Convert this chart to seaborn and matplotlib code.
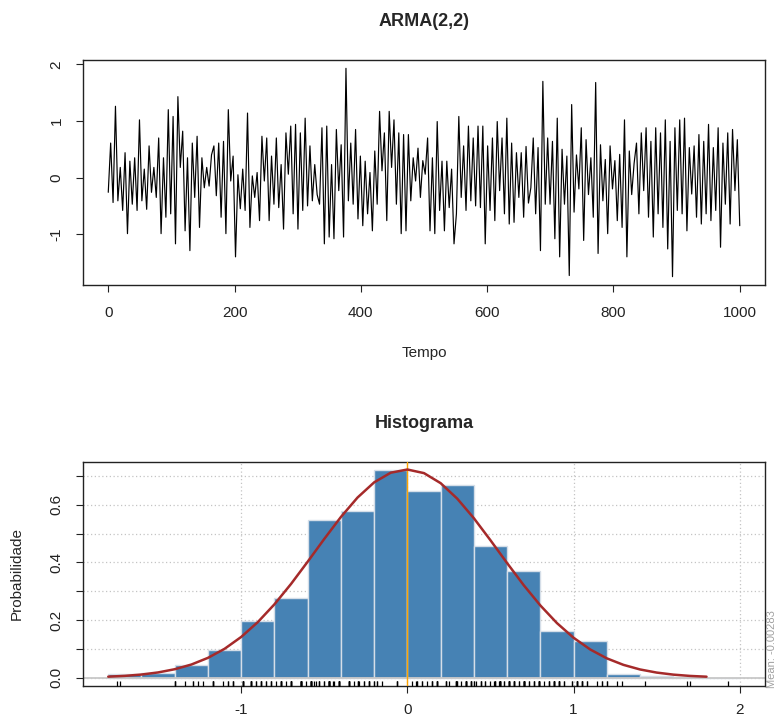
import numpy as np
import matplotlib
matplotlib.use("Agg")
import matplotlib.pyplot as plt
import seaborn as sns

# ARMA(2,2) simulated series (successive peaks/troughs)
serie = [
    -0.26, 0.61, -0.44, 1.26, -0.41, 0.18, -0.58, 0.44, -0.99, 0.29, -0.47, 0.35, -0.58, 1.02, -0.41, 0.15,
    -0.56, 0.56, -0.26, 0.18, -0.35, 0.70, -0.99, 0.35, -0.70, 1.20, -0.64, 1.08, -1.17, 1.43, 0.18, 0.82,
    -0.94, 0.35, -1.29, 0.61, -0.35, 0.73, -0.88, 0.35, -0.18, 0.18, -0.15, 0.40,
    0.56, -0.32, 0.61, -0.70, 0.64, -0.99, 1.20, -0.06, 0.38, -1.40, 0.05, -0.55, 0.15, -0.58, 1.14, -0.88,
    0.03, -0.35, 0.09, -0.76, 0.73, -0.06, 0.70, -0.76, 0.38, -0.47, 0.70, -0.53, 0.23, -0.91, 0.79, 0.06,
    0.91, -0.64, 0.94, -0.91, 0.79, -0.58, 1.05, -0.50, 0.56, -0.41, 0.23, -0.30,
    -0.47, 0.88, -1.17, 0.91, -1.05, 0.23, -1.08, 0.85, -0.23, 0.58, -1.05, 1.93, -0.41, 0.61, -0.47, 0.85,
    -0.73, 0.38, -0.85, 0.29, -0.64, 0.09, -0.94, 0.47, -0.47, 1.17, 0.12, 0.79, -0.76, 1.17, 0.18, 1.02,
    -0.47, 0.79, -0.99, 0.76, -0.94, 0.76, -0.41, 0.35, -0.06, 0.52, -0.35, 0.30,
    0.06, 0.70, -0.94, 0.35, -0.99, 0.99, -0.58, 0.29, -0.94, 0.29, -0.53, 0.15, -1.17, -0.64, 1.08, -0.35,
    0.56, -0.58, 0.91, -0.41, 0.70, -0.50, 0.91, -0.53, 0.91, -1.17, 0.56, -0.58, 0.70, -0.76, 0.99, -0.23,
    0.70, -0.64, 1.05, -0.82, 0.61, -0.79, 0.44, -0.35, 0.44, -0.70, 0.55, -0.45,
    -0.18, 0.70, -0.64, 0.53, -1.29, 1.70, -0.47, 0.70, -0.47, 0.64, -1.08, 1.05, -1.40, 0.50, -0.47, 0.38,
    -1.73, 1.29, -0.61, 0.40, -0.20, 0.88, -1.11, 0.67, -0.30, 0.35, -0.70, 1.68, -1.34, 0.58, -0.41, 0.32,
    -0.99, 0.56, -0.20, 0.30, -0.76, 0.41, -0.88, 1.02, -1.40, 0.47, -0.30, 0.25,
    0.61, -0.64, 0.79, -0.23, 0.88, -0.70, 0.64, -1.05, 0.88, -0.64, 0.79, -0.88, 1.02, -1.26, 0.64, -1.75,
    0.88, -0.58, 1.02, -0.64, 1.05, -0.94, 0.53, -0.29, 0.56, -0.70, 0.76, -0.82, 0.64, -0.64, 0.94, -0.76,
    0.53, -0.58, 0.88, -1.23, 0.61, -0.47, 0.79, -0.82, 0.85, -0.23, 0.67, -0.85,
]
tempo = np.linspace(0, 1000, len(serie))

# Histogram (density per bin)
bordas = [-1.8, -1.6, -1.4, -1.2, -1.0, -0.8, -0.6, -0.4, -0.2, 0.0,
          0.2, 0.4, 0.6, 0.8, 1.0, 1.2, 1.4, 1.6, 1.8, 2.0]
densidade = [0.012, 0.015, 0.043, 0.096, 0.197, 0.276, 0.549, 0.577, 0.720,
             0.647, 0.668, 0.457, 0.370, 0.161, 0.127, 0.012, 0.007, 0.004, 0.0]

# Fitted normal curve
curva_x = [-1.8, -1.7, -1.6, -1.5, -1.4, -1.3, -1.2, -1.1, -1.0, -0.9, -0.8, -0.7, -0.6, -0.5,
           -0.4, -0.3, -0.2, -0.1, 0.0, 0.1, 0.2, 0.3, 0.4, 0.5, 0.6, 0.7, 0.8, 0.9, 1.0,
           1.1, 1.2, 1.3, 1.4, 1.5, 1.6, 1.7, 1.8]
curva_y = [0.0036, 0.0064, 0.0110, 0.0183, 0.0294, 0.0457, 0.0689, 0.1003, 0.1415, 0.1930,
           0.2548, 0.3256, 0.4027, 0.4819, 0.5580, 0.6254, 0.6781, 0.7117, 0.7227, 0.7102,
           0.6754, 0.6216, 0.5537, 0.4771, 0.3980, 0.3212, 0.2509, 0.1896, 0.1387, 0.0981,
           0.0672, 0.0446, 0.0286, 0.0178, 0.0107, 0.0062, 0.0035]
media = -0.00283

sns.set_theme(style="ticks")
plt.rcParams['font.family'] = ['Liberation Sans', 'DejaVu Sans']
plt.rcParams['axes.edgecolor'] = '#222222'
plt.rcParams['axes.linewidth'] = 1.0
plt.rcParams['axes.unicode_minus'] = False

W, H = 779, 720
fig = plt.figure(figsize=(W / 100, H / 100), dpi=100)
fig.patch.set_facecolor('white')

def box(l, t, r, b):
    return [l / W, 1 - b / H, (r - l) / W, (b - t) / H]

# ---- Top: time series
ax1 = fig.add_axes(box(83, 60, 765, 285))
sns.lineplot(x=tempo, y=serie, ax=ax1, color='black', linewidth=0.85, estimator=None, sort=False)
ax1.set_xlim(-40, 1040)
lo, hi = min(serie), max(serie)
r = hi - lo
ax1.set_ylim(lo - 0.04 * r, hi + 0.04 * r)
ax1.set_xticks([0, 200, 400, 600, 800, 1000])
ax1.set_yticks([-1, 0, 1, 2])
ax1.set_yticklabels(['-1', '0', '1', '2'], rotation=90, va='center')
ax1.tick_params(axis='both', length=5, width=0.8, labelsize=11, colors='#222222', pad=9)
ax1.tick_params(axis='x', pad=10)
ax1.set_xlabel('Tempo', fontsize=11)
ax1.xaxis.set_label_coords(0.5, -(353 - 285) / 225)
ax1.xaxis.label.set_va('center')
ax1.set_ylabel('')
for s in ax1.spines.values():
    s.set_visible(True)
fig.text(424 / W, 1 - 22 / H, 'ARMA(2,2)', ha='center', va='center', fontsize=13, fontweight='bold')

# ---- Bottom: histogram
ax2 = fig.add_axes(box(83, 462, 765, 686))
centros = [(a + b) / 2 for a, b in zip(bordas[:-1], bordas[1:])]
ax2.set_axisbelow(True)
ax2.grid(True, linestyle=(0, (1, 2)), color='#c4c4c4', linewidth=0.9)
sns.histplot(x=centros, weights=densidade, bins=bordas, stat='count', ax=ax2,
             color='#4682B4', edgecolor='#D5DEE8', linewidth=1.0, alpha=1.0)
ax2.axhline(0, color='#c8c8c8', linewidth=1.3, zorder=2)
ax2.axvline(media, color='#FFA500', linewidth=1.0, zorder=3)
sns.lineplot(x=curva_x, y=curva_y, ax=ax2, color='#A52A2A', linewidth=1.8, zorder=4)
sns.rugplot(x=serie, ax=ax2, height=0.022, color='black', linewidth=0.9, clip_on=False, zorder=5)
ax2.set_xlim(-1.8 - 0.152, 2.0 + 0.152)
ax2.set_ylim(-0.0288, 0.72 + 0.0288)
ax2.set_xticks([-1, 0, 1, 2])
ax2.set_yticks([0.0, 0.1, 0.2, 0.3, 0.4, 0.5, 0.6, 0.7])
ax2.set_yticklabels(['0.0', '', '0.2', '', '0.4', '', '0.6', ''], rotation=90, va='center')
ax2.tick_params(axis='both', length=5, width=0.8, labelsize=11, colors='#222222', pad=9)
ax2.tick_params(axis='x', pad=7)
ax2.set_xlabel('')
ax2.set_ylabel('Probabilidade', fontsize=11)
ax2.yaxis.set_label_coords((17 - 83) / 682, 0.5)
ax2.yaxis.label.set_va('center')
for s in ax2.spines.values():
    s.set_visible(True)
fig.text(424 / W, 1 - 423 / H, 'Histograma', ha='center', va='center', fontsize=13, fontweight='bold')
fig.text(772 / W, 1 - 688 / H, 'Mean: -0.00283', rotation=90, ha='center', va='bottom',
         fontsize=8, color='#a0a0a0')

fig.savefig('out.png', dpi=100, facecolor='white')
